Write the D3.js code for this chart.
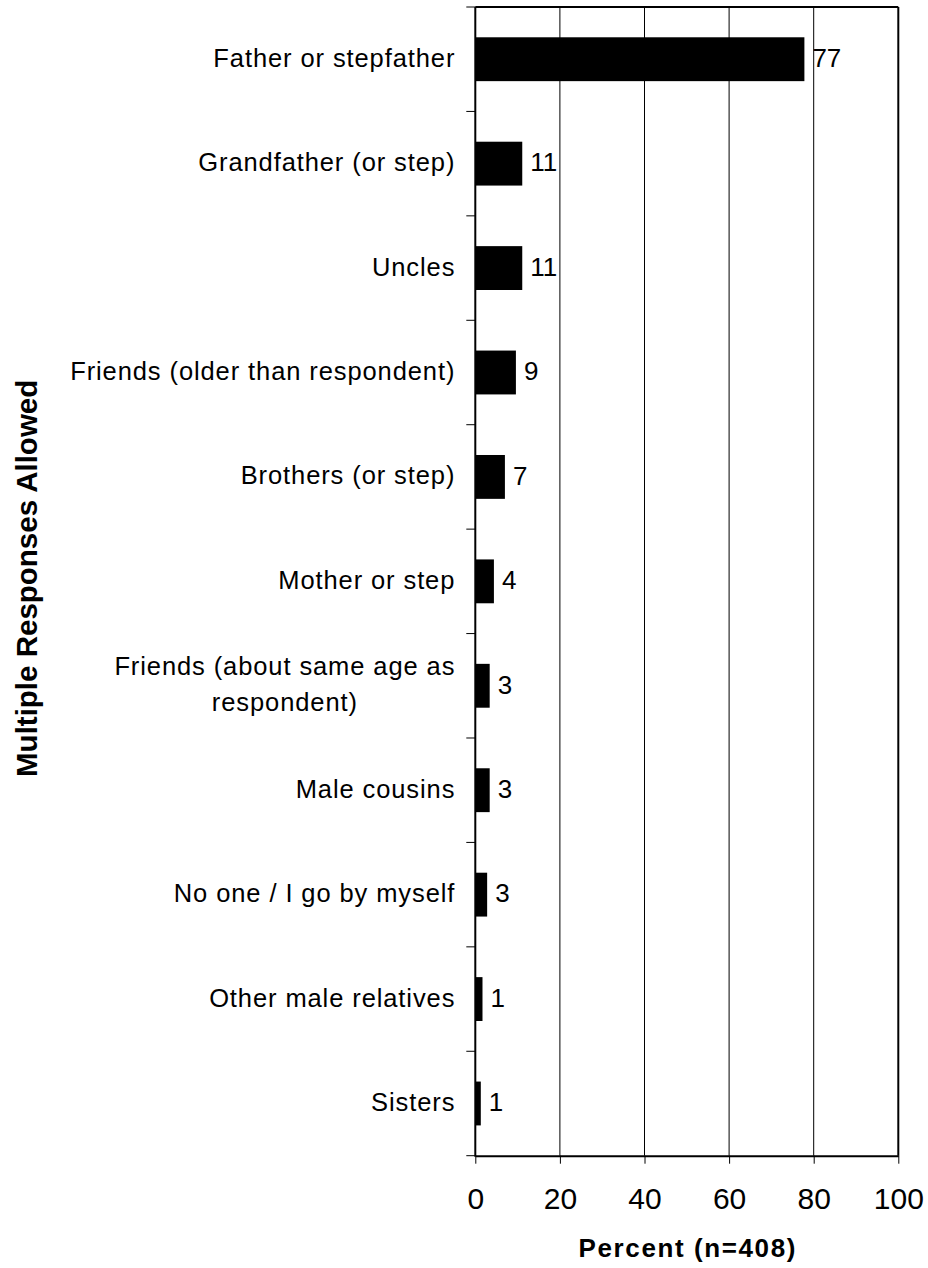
<!DOCTYPE html>
<html>
<head>
<meta charset="utf-8">
<script src="https://cdn.jsdelivr.net/npm/d3@7"></script>
<style>
  html, body { margin: 0; padding: 0; background: #fff; }
  svg { display: block; }
  text { font-family: "Liberation Sans", Arial, sans-serif; fill: #000; }
</style>
</head>
<body>
<svg id="chart" width="928" height="1268"></svg>
<script>
// ---- data ----
const categories = [
  ["Father or stepfather"],
  ["Grandfather (or step)"],
  ["Uncles"],
  ["Friends (older than respondent)"],
  ["Brothers (or step)"],
  ["Mother or step"],
  ["Friends (about same age as", "respondent)"],
  ["Male cousins"],
  ["No one / I go by myself"],
  ["Other male relatives"],
  ["Sisters"]
];
const barValues = [77.8, 11.1, 11.1, 9.6, 7.0, 4.4, 3.4, 3.4, 2.8, 1.7, 1.3];
const valueLabels = ["77", "11", "11", "9", "7", "4", "3", "3", "3", "1", "1"];
const xTicks = [0, 20, 40, 60, 80, 100];
const xTitle = "Percent (n=408)";
const yTitle = "Multiple Responses Allowed";

// ---- layout ----
const mLeft = 475.3, mRight = 898.3, mTop = 7, mBottom = 1155.7;
const svg = d3.select("#chart");

const keys = categories.map(c => c.join(" "));
const x = d3.scaleLinear().domain([0, 100]).range([mLeft, mRight]);
const y = d3.scaleBand().domain(keys).range([mTop, mBottom])
  .paddingInner(0.58).paddingOuter(0.29);
const step = y.step();

// grid lines
svg.append("g").selectAll("line")
  .data(xTicks.filter(t => t > 0 && t < 100))
  .join("line")
  .attr("x1", d => x(d)).attr("x2", d => x(d))
  .attr("y1", mTop).attr("y2", mBottom)
  .attr("stroke", "#000").attr("stroke-width", 1);

// bars
svg.append("g").selectAll("rect")
  .data(barValues)
  .join("rect")
  .attr("x", x(0))
  .attr("y", (d, i) => y(keys[i]))
  .attr("width", d => x(d) - x(0))
  .attr("height", y.bandwidth())
  .attr("fill", "#000");

// value labels
svg.append("g").selectAll("text")
  .data(barValues)
  .join("text")
  .attr("x", d => x(d) + 8)
  .attr("y", (d, i) => y(keys[i]) + y.bandwidth() / 2)
  .attr("dy", "0.3em")
  .style("font-size", "26px")
  .text((d, i) => valueLabels[i]);

// frame: top & right
svg.append("line").attr("x1", mLeft).attr("x2", mRight).attr("y1", mTop).attr("y2", mTop)
  .attr("stroke", "#000").attr("stroke-width", 2);
svg.append("line").attr("x1", mRight).attr("x2", mRight).attr("y1", mTop).attr("y2", mBottom)
  .attr("stroke", "#000").attr("stroke-width", 2);

// x axis
const xAxis = svg.append("g")
  .attr("transform", `translate(0,${mBottom})`)
  .call(d3.axisBottom(x).tickValues(xTicks).tickSize(8).tickPadding(24).tickSizeOuter(0));
xAxis.select(".domain").attr("stroke", "#000").attr("stroke-width", 2);
xAxis.selectAll(".tick line").attr("stroke", "#000").attr("stroke-width", 1);
xAxis.selectAll(".tick text")
  .style("font-size", "30px")
  .style("font-family", "'Liberation Sans', Arial, sans-serif")
  .attr("fill", "#000");

// y axis line with ticks at band boundaries
const yBounds = d3.range(categories.length + 1).map(i => y.range()[0] + i * step);
svg.append("g").selectAll("line")
  .data(yBounds)
  .join("line")
  .attr("x1", mLeft - 9).attr("x2", mLeft)
  .attr("y1", d => d).attr("y2", d => d)
  .attr("stroke", "#000").attr("stroke-width", 1);
svg.append("line").attr("x1", mLeft).attr("x2", mLeft).attr("y1", mTop).attr("y2", mBottom + 1)
  .attr("stroke", "#000").attr("stroke-width", 2);

// category labels
const labelRight = mLeft - 20;
const catG = svg.append("g");
categories.forEach((lines, i) => {
  const cy = y(keys[i]) + y.bandwidth() / 2;
  const baseY = cy + 7.5;
  const t = catG.append("text")
    .style("font-size", "25.5px")
    .style("letter-spacing", "0.9px");
  if (lines.length === 1) {
    t.attr("x", labelRight).attr("y", baseY).attr("text-anchor", "end").text(lines[0]);
  } else {
    const spans = lines.map((ln, j) => t.append("tspan")
      .attr("y", baseY + (j - (lines.length - 1) / 2) * 36)
      .text(ln));
    const widths = spans.map(s => s.node().getComputedTextLength());
    const maxW = d3.max(widths);
    const cx = labelRight - maxW / 2;
    spans.forEach(s => s.attr("x", cx).attr("text-anchor", "middle"));
  }
});

// axis titles
svg.append("text")
  .attr("x", (mLeft + mRight) / 2 + 1)
  .attr("y", 1256.5)
  .attr("text-anchor", "middle")
  .style("font-size", "26px")
  .style("font-weight", "bold")
  .style("letter-spacing", "1.6px")
  .text(xTitle);

svg.append("text")
  .attr("transform", `translate(36.5,${(mTop + mBottom) / 2 - 3}) rotate(-90)`)
  .attr("text-anchor", "middle")
  .style("font-size", "29.5px")
  .style("font-weight", "bold")
  .text(yTitle);
</script>
</body>
</html>
